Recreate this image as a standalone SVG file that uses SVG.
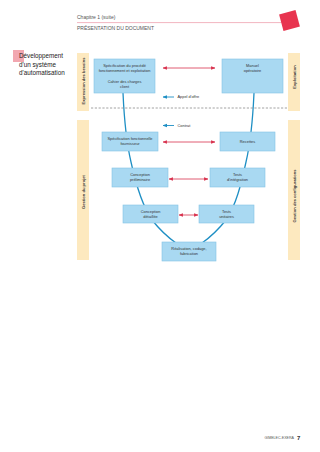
<svg xmlns="http://www.w3.org/2000/svg" width="320" height="452" viewBox="0 0 320 452">
<defs>
<style>
.box{fill:#a9d9f2;stroke:#84c3e4;stroke-width:0.6}
.bt{font-family:"Liberation Sans",Arial,sans-serif;font-size:3.9px;fill:#333;text-anchor:middle}
.bar{fill:#fde9bf}
.bl{font-family:"Liberation Sans",Arial,sans-serif;font-size:4.1px;font-weight:bold;fill:#333;text-anchor:middle}
.red{stroke:#d8334f;stroke-width:0.8;fill:none}
.blue{stroke:#1e8fc4;stroke-width:1.3;fill:none}
.lbl{font-family:"Liberation Sans",Arial,sans-serif;font-size:3.9px;fill:#333}
.hd{font-family:"Liberation Sans",Arial,sans-serif;fill:#555}
</style>
<marker id="rh" viewBox="0 0 10 10" refX="9" refY="5" markerWidth="5.5" markerHeight="5.5" orient="auto-start-reverse"><path d="M0,1 L10,5 L0,9 z" fill="#d8334f"/></marker>
<marker id="bh" viewBox="0 0 10 10" refX="9" refY="5" markerWidth="5" markerHeight="5" orient="auto-start-reverse"><path d="M0,1 L10,5 L0,9 z" fill="#1e8fc4"/></marker>
</defs>
<rect width="320" height="452" fill="#fff"/>

<g id="header">
<text class="hd" x="77" y="18.5" font-size="5">Chapitre 1 (suite)</text>
<line x1="77" y1="22.6" x2="284" y2="22.6" stroke="#e46a82" stroke-width="0.5"/>
<text class="hd" x="77" y="29.5" font-size="5">PRÉSENTATION DU DOCUMENT</text>
<rect x="281" y="12" width="17" height="17" fill="#e8344f" transform="rotate(-15 289.5 20.5)"/>
</g>

<g id="side-title">
<rect x="13" y="50" width="11" height="12" fill="#f2a7b0"/>
<text class="hd" x="19" y="58" font-size="6.3" style="fill:#222">Développement</text>
<text class="hd" x="19" y="66.5" font-size="6.3" style="fill:#222">d'un système</text>
<text class="hd" x="19" y="75" font-size="6.3" style="fill:#222">d'automatisation</text>
</g>

<g id="bars">
<rect class="bar" x="77" y="53" width="12" height="58"/>
<rect class="bar" x="288" y="53" width="12" height="58"/>
<rect class="bar" x="77" y="120" width="12" height="140"/>
<rect class="bar" x="288" y="120" width="12" height="140"/>
<text class="bl" transform="translate(84.5 81) rotate(-90)">Expression des besoins</text>
<text class="bl" transform="translate(295.5 77) rotate(-90)">Exploitation</text>
<text class="bl" transform="translate(84.5 192) rotate(-90)">Gestion du projet</text>
<text class="bl" transform="translate(295.5 196) rotate(-90)">Gestion des configurations</text>
</g>

<g id="connectors">
<path class="blue" d="M123,93 C124,115 127,145 131,162 C136,185 142,205 152,220 C160,230 166,236 176,243"/>
<path class="blue" d="M254,93 C253,115 250,145 246,162 C241,185 236,205 226,220 C218,230 212,236 202,243"/>
<line class="red" x1="163" y1="68" x2="215" y2="68" marker-start="url(#rh)" marker-end="url(#rh)"/>
<line class="red" x1="163" y1="142" x2="215" y2="142" marker-start="url(#rh)" marker-end="url(#rh)"/>
<line class="red" x1="169" y1="179" x2="208" y2="179" marker-start="url(#rh)" marker-end="url(#rh)"/>
<line class="red" x1="179" y1="215" x2="198" y2="215" marker-start="url(#rh)" marker-end="url(#rh)"/>
<line stroke="#1e8fc4" stroke-width="0.9" x1="174" y1="97" x2="163" y2="97" marker-end="url(#bh)"/>
<text class="lbl" x="177.5" y="98.3">Appel d'offre</text>
<line stroke="#1e8fc4" stroke-width="0.9" x1="174" y1="125.5" x2="163" y2="125.5" marker-end="url(#bh)"/>
<text class="lbl" x="177.5" y="126.8">Contrat</text>
<line x1="91" y1="108" x2="288" y2="108" stroke="#8a8a8a" stroke-width="0.8" stroke-dasharray="2.2,1.6"/>
</g>

<g id="n-spec-procede">
<rect class="box" x="94" y="59" width="61" height="34"/>
<text class="bt" x="124.5" y="67">Spécification du procédé</text>
<text class="bt" x="124.5" y="72">fonctionnement et exploitation</text>
<text class="bt" x="124.5" y="83">Cahier des charges</text>
<text class="bt" x="124.5" y="88">client</text>
</g>
<g id="n-manuel">
<rect class="box" x="222" y="59" width="61" height="34"/>
<text class="bt" x="252.5" y="67">Manuel</text>
<text class="bt" x="252.5" y="72">opératoire</text>
</g>
<g id="n-spec-fonct">
<rect class="box" x="102" y="132" width="56" height="19"/>
<text class="bt" x="130" y="140">Spécification fonctionnelle</text>
<text class="bt" x="130" y="145">fournisseur</text>
</g>
<g id="n-recettes">
<rect class="box" x="220" y="132" width="55" height="19"/>
<text class="bt" x="247.5" y="142.5">Recettes</text>
</g>
<g id="n-conc-prelim">
<rect class="box" x="112" y="168" width="56" height="19"/>
<text class="bt" x="140" y="176">Conception</text>
<text class="bt" x="140" y="181">préliminaire</text>
</g>
<g id="n-tests-integ">
<rect class="box" x="210" y="168" width="55" height="19"/>
<text class="bt" x="237.5" y="176">Tests</text>
<text class="bt" x="237.5" y="181">d'intégration</text>
</g>
<g id="n-conc-det">
<rect class="box" x="123" y="205" width="55" height="18"/>
<text class="bt" x="150.5" y="212.5">Conception</text>
<text class="bt" x="150.5" y="217.5">détaillée</text>
</g>
<g id="n-tests-unit">
<rect class="box" x="199" y="205" width="55" height="18"/>
<text class="bt" x="226.5" y="212.5">Tests</text>
<text class="bt" x="226.5" y="217.5">unitaires</text>
</g>
<g id="n-realisation">
<rect class="box" x="162" y="242" width="54" height="19"/>
<text class="bt" x="189" y="249.5">Réalisation, codage,</text>
<text class="bt" x="189" y="254.5">fabrication</text>
</g>

<g id="footer">
<text class="hd" x="294" y="439" font-size="3.6" text-anchor="end">GIMELEC-EXERA</text>
<text class="hd" x="297" y="439.5" font-size="6" font-weight="bold" style="fill:#333">7</text>
</g>
</svg>
